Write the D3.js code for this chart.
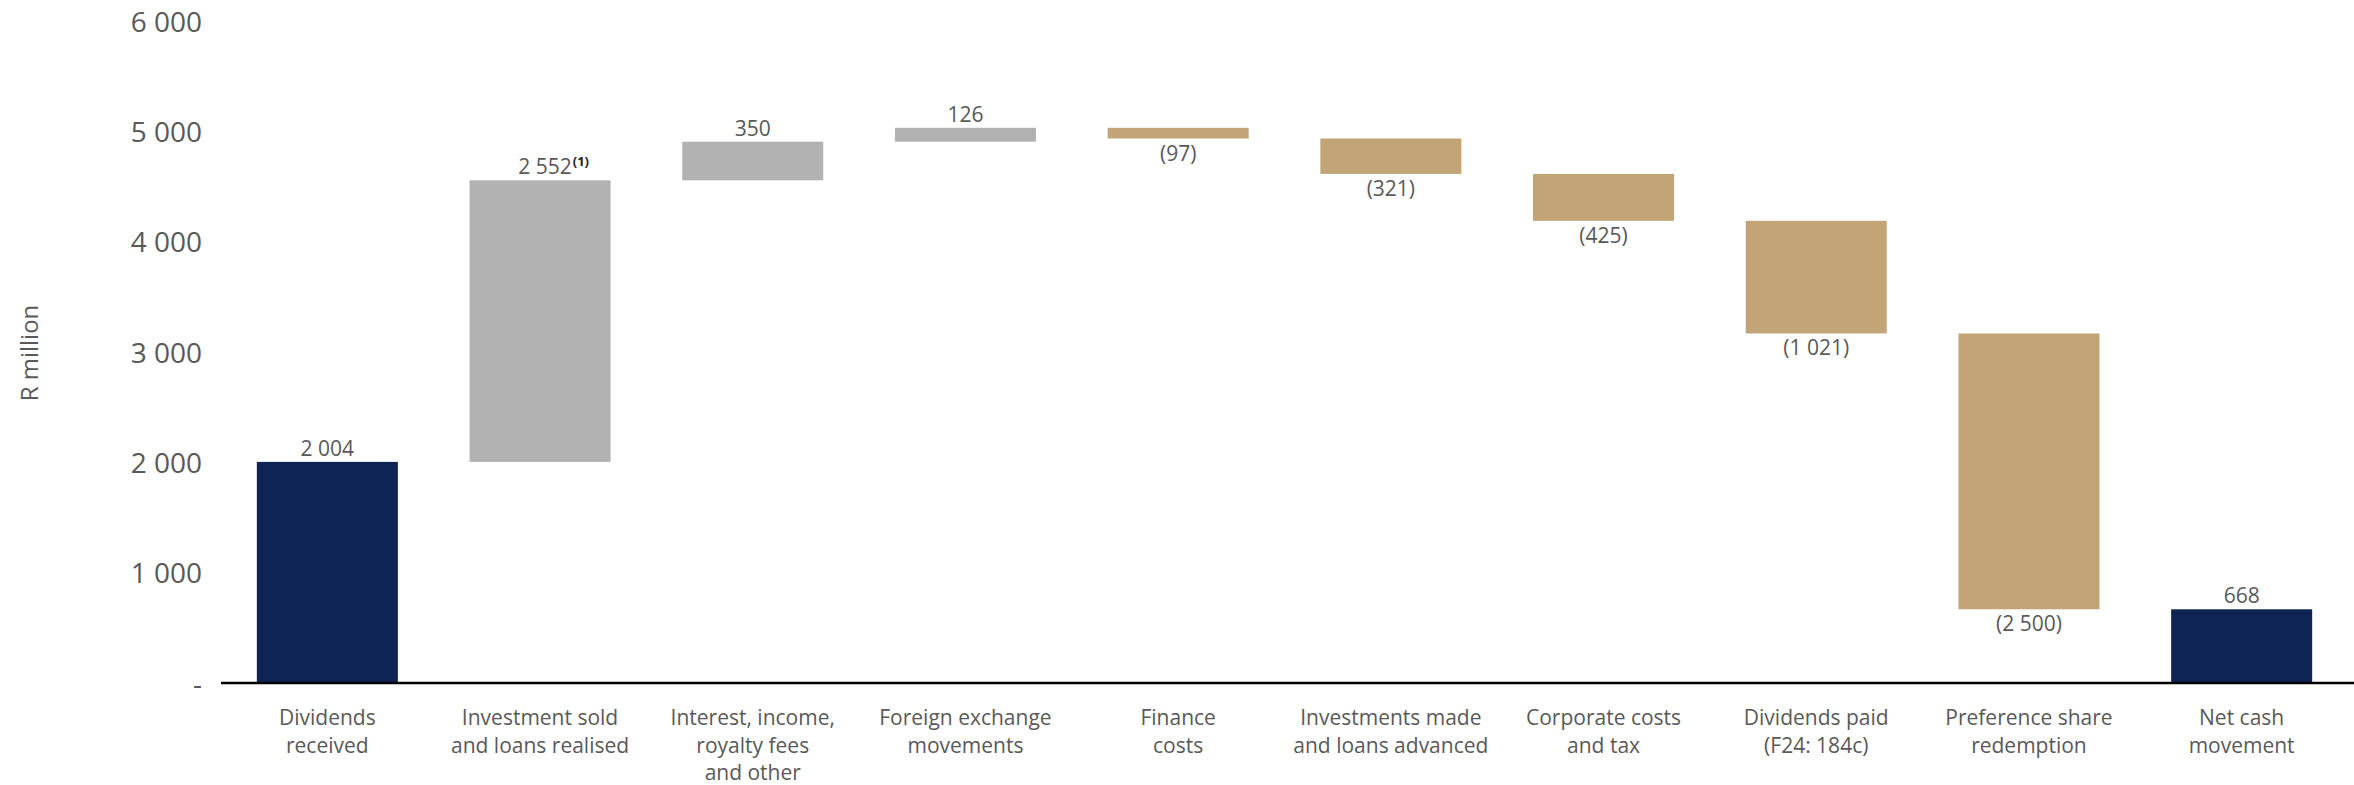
<!DOCTYPE html>
<html>
<head>
<meta charset="utf-8">
<script src="https://cdn.jsdelivr.net/npm/d3@7"></script>
<style>
  html, body { margin: 0; padding: 0; background: #ffffff; }
  svg { display: block; font-family: "Open Sans", "DejaVu Sans", sans-serif; }
</style>
</head>
<body>
<svg id="chart" width="2354" height="785"></svg>
<script>
// Cash flow bridge, R million
const categories = [
  ["Dividends", "received"],
  ["Investment sold", "and loans realised"],
  ["Interest, income,", "royalty fees", "and other"],
  ["Foreign exchange", "movements"],
  ["Finance", "costs"],
  ["Investments made", "and loans advanced"],
  ["Corporate costs", "and tax"],
  ["Dividends paid", "(F24: 184c)"],
  ["Preference share", "redemption"],
  ["Net cash", "movement"]
];
// Movement per step; totals are drawn from zero
const values = [2004, 2552, 350, 126, -97, -321, -425, -1021, -2500, 668];
const kinds = ["total", "step", "step", "step", "step", "step", "step", "step", "step", "total"];
const footnotes = ["", "(1)", "", "", "", "", "", "", "", ""];
const yTicks = [0, 1000, 2000, 3000, 4000, 5000, 6000];

const colors = { total: "#0E2453", up: "#B2B2B2", down: "#C2A477" };
const textColor = "#595959";

const svg = d3.select("#chart");

const x = d3.scaleBand()
  .domain(d3.range(categories.length))
  .range([221, 2348])
  .paddingInner(0.337)
  .paddingOuter(0.1685);

const y = d3.scaleLinear().domain([0, 6000]).range([683, 21]);

const loc = d3.formatLocale({ decimal: ".", thousands: " ", grouping: [3], currency: ["R", ""] });
const fmt = loc.format(",");
const label = v => v < 0 ? "(" + fmt(-v) + ")" : fmt(v);

// Running totals for the waterfall
let run = 0;
const bars = values.map((v, i) => {
  let lo, hi;
  if (kinds[i] === "total") { lo = 0; hi = v; run = v; }
  else { const start = run; run += v; lo = Math.min(start, run); hi = Math.max(start, run); }
  const type = kinds[i] === "total" ? "total" : (v >= 0 ? "up" : "down");
  return { i, v, lo, hi, type, note: footnotes[i] };
});

// Y axis
const yAxis = d3.axisLeft(y)
  .tickValues(yTicks)
  .tickSize(0)
  .tickPadding(8)
  .tickFormat(d => d === 0 ? "-" : fmt(d));
const gy = svg.append("g").attr("transform", "translate(210,0)").call(yAxis);
gy.select(".domain").remove();
gy.selectAll("text")
  .attr("fill", textColor)
  .style("font-size", "28px")
  .style("font-family", "\"Open Sans\", sans-serif")
  .attr("dy", "0.36em");

// Axis title
svg.append("text")
  .attr("transform", "translate(38,353) rotate(-90)")
  .attr("text-anchor", "middle")
  .attr("fill", textColor)
  .style("font-size", "24px")
  .text("R million");

// Bars
svg.append("g").selectAll("rect")
  .data(bars)
  .join("rect")
  .attr("x", d => x(d.i))
  .attr("width", x.bandwidth())
  .attr("y", d => y(d.hi))
  .attr("height", d => y(d.lo) - y(d.hi))
  .attr("fill", d => colors[d.type]);

// Baseline
svg.append("line")
  .attr("x1", 221).attr("x2", 2354)
  .attr("y1", y(0)).attr("y2", y(0))
  .attr("stroke", "#000").attr("stroke-width", 2.5);

// Value labels
const vl = svg.append("g")
  .style("font-size", "21px")
  .attr("fill", textColor);

bars.forEach(d => {
  const cx = x(d.i) + x.bandwidth() / 2;
  const t = vl.append("text");
  if (d.v >= 0) t.attr("y", y(d.hi) - 6);
  else t.attr("y", y(d.lo) + 22);
  const main = t.append("tspan").text(label(d.v));
  if (d.note) {
    t.append("tspan")
      .attr("dy", -8)
      .attr("dx", 1)
      .style("font-size", "13px")
      .style("font-weight", "bold")
      .attr("fill", "#222")
      .text(d.note);
    const w = main.node().getComputedTextLength();
    t.attr("text-anchor", "start").attr("x", cx + 5 - w / 2);
  } else {
    t.attr("text-anchor", "middle").attr("x", cx);
  }
});

// Category labels
const cl = svg.append("g")
  .style("font-size", "21px")
  .attr("fill", textColor)
  .attr("text-anchor", "middle");

categories.forEach((lines, i) => {
  const t = cl.append("text")
    .attr("x", x(i) + x.bandwidth() / 2)
    .attr("y", 725);
  lines.forEach((ln, k) => {
    t.append("tspan")
      .attr("x", x(i) + x.bandwidth() / 2)
      .attr("dy", k === 0 ? 0 : 27.5)
      .text(ln);
  });
});
</script>
</body>
</html>
